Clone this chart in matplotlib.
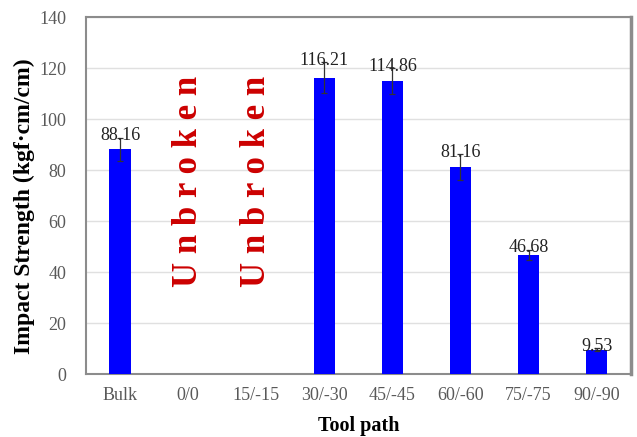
import numpy as np
import matplotlib.pyplot as plt

plt.rcParams['font.family'] = ['Liberation Serif', 'DejaVu Serif']

tool_paths = ["Bulk", "0/0", "15/-15", "30/-30", "45/-45", "60/-60", "75/-75", "90/-90"]
strength = [88.16, np.nan, np.nan, 116.21, 114.86, 81.16, 46.68, 9.53]
errors = [4.5, 0, 0, 6.0, 5.0, 5.0, 2.0, 0.5]
unbroken = ["0/0", "15/-15"]


def plot_strength():
    fig = plt.figure(figsize=(6.37, 4.37), dpi=100)
    ax = fig.add_axes([0.135, 0.144, 0.855, 0.817])
    x = np.arange(len(tool_paths))
    has_val = ~np.isnan(strength)
    xs = x[has_val]
    vals = np.array(strength)[has_val]
    errs = np.array(errors)[has_val]
    ax.bar(xs, vals, width=0.31, color="#0000ff", zorder=3,
           yerr=errs, error_kw=dict(ecolor="#333333", elinewidth=0.9, capsize=2.5, capthick=0.9))

    for i, v, e in zip(xs, vals, errs):
        ax.text(i, v + e - 2.5, f"{v:.2f}", ha="center", va="bottom",
                fontsize=13, color="#222222", zorder=4)

    for name in unbroken:
        i = tool_paths.index(name)
        ax.text(i, 75.5, "U n b r o k e n", rotation=90, ha="center", va="center",
                fontsize=25, fontweight="bold", color="#cc0000")

    ax.set_xlim(-0.5, len(tool_paths) - 0.5)
    ax.set_ylim(0, 140)
    ax.set_yticks(range(0, 141, 20))
    ax.set_xticks(x)
    ax.set_xticklabels(tool_paths)
    ax.tick_params(length=0, labelsize=13, labelcolor="#595959")
    ax.tick_params(axis="y", pad=14)
    ax.tick_params(axis="x", pad=9)
    ax.yaxis.grid(True, color="#e0e0e0", linewidth=1.0, zorder=0)
    for side in ax.spines.values():
        side.set_color("#8c8c8c")
        side.set_linewidth(1.5)
    ax.spines["right"].set_linewidth(2.5)

    ax.set_xlabel("Tool path", fontsize=14.5, fontweight="bold", labelpad=9)
    ax.set_ylabel("Impact Strength (kgf·cm/cm)", fontsize=17, fontweight="bold")
    ax.yaxis.set_label_coords(-0.094, 0.47)
    fig.savefig("out.png", dpi=100)


if __name__ == "__main__":
    plot_strength()
